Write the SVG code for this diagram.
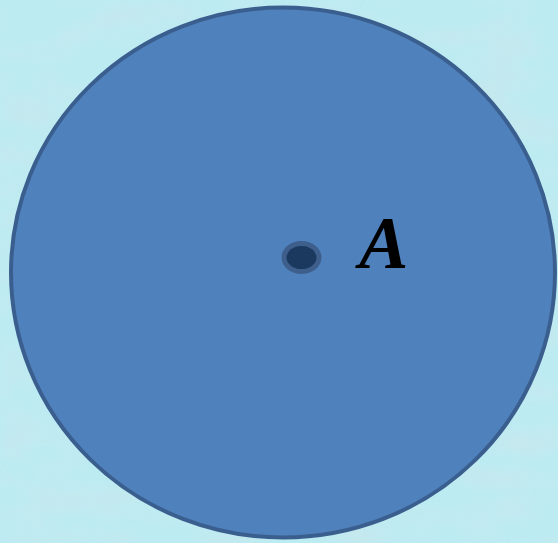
<svg xmlns="http://www.w3.org/2000/svg" width="558" height="543" viewBox="0 0 558 543">
<defs>
<filter id="tex" x="0" y="0" width="100%" height="100%">
<feTurbulence type="fractalNoise" baseFrequency="0.015 0.035" numOctaves="2" seed="4" result="n"/>
<feColorMatrix in="n" type="matrix" values="0 0 0 0 0.58  0 0 0 0 0.80  0 0 0 0 0.84  0 0 0 2.2 -0.9"/>
<feGaussianBlur stdDeviation="3"/>
</filter>
<style>
.disk{fill:#4F81BD;stroke:#3A5F8E;stroke-width:4}
.ring{fill:#3E5F8C}
.core{fill:#1B395E}
.lbl{font-family:"Liberation Serif","Times New Roman",serif;font-style:italic;font-weight:bold;font-size:74px;fill:#000}
</style>
</defs>
<rect width="558" height="543" fill="#BDEBF2"/>
<rect width="558" height="543" filter="url(#tex)" opacity="0.8"/>
<g id="circle">
<ellipse class="disk" cx="283" cy="272.5" rx="272" ry="265"/>
</g>
<g id="pointA">
<ellipse class="ring" cx="301.5" cy="257.5" rx="20" ry="16.5"/>
<ellipse class="core" cx="301.5" cy="257.5" rx="15" ry="11.5"/>
<text class="lbl" x="359" y="268">A</text>
</g>
<g id="connectors"/>
</svg>
